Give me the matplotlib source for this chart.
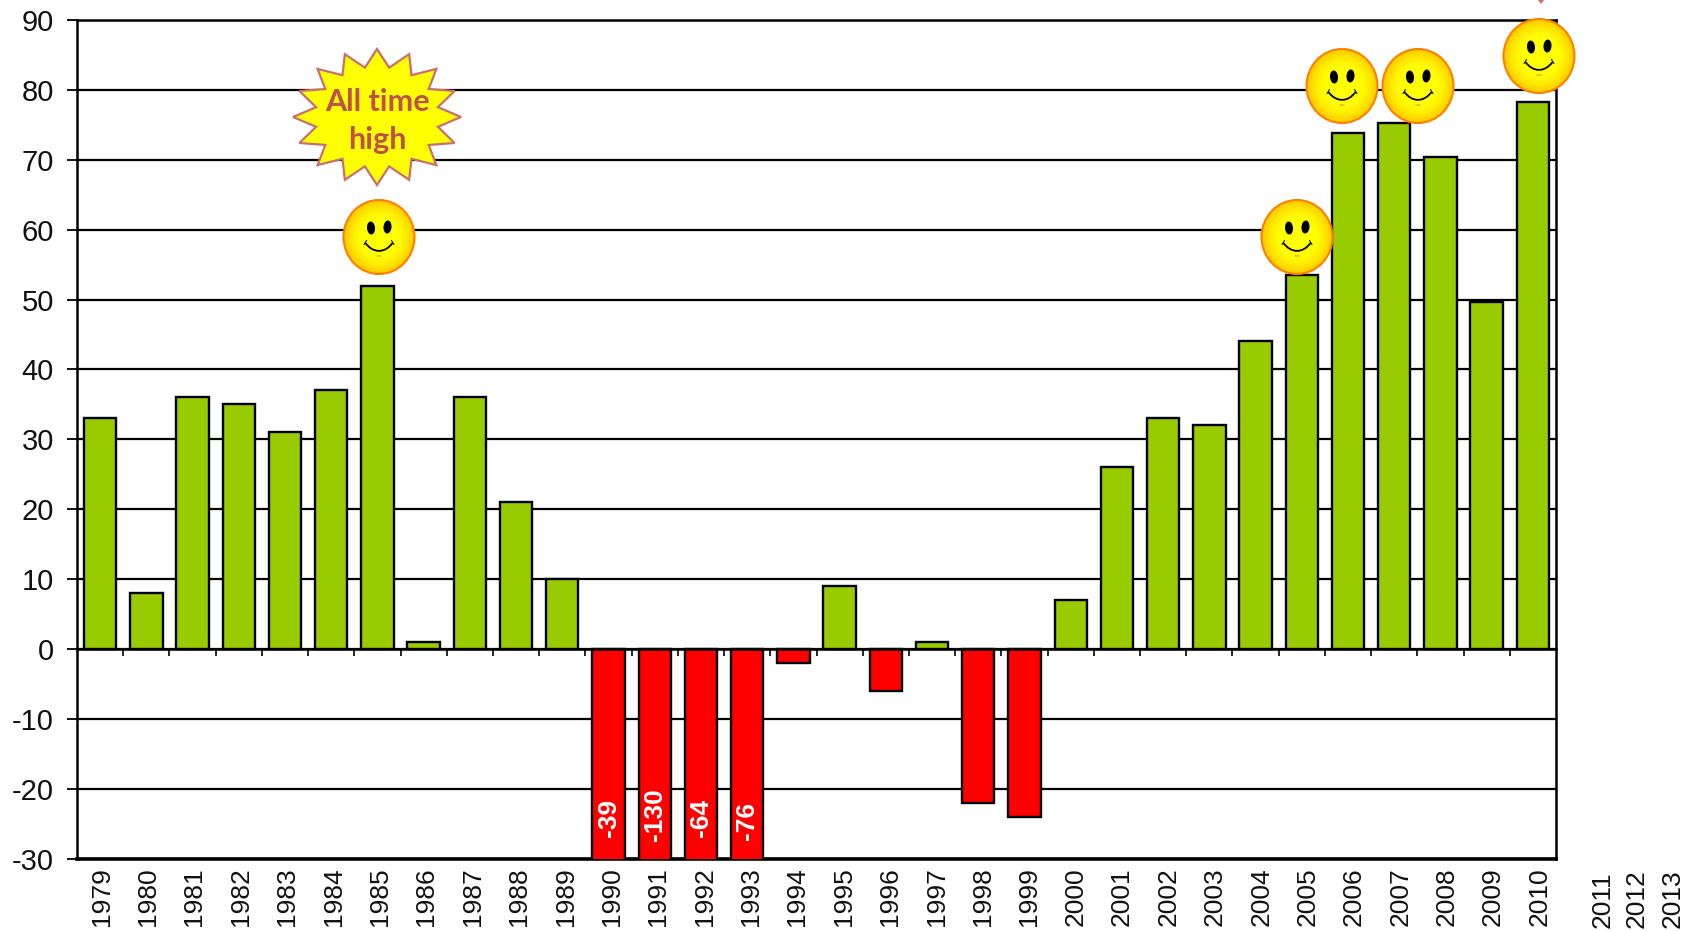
import numpy as np
import matplotlib
matplotlib.use('Agg')
import matplotlib.pyplot as plt
from matplotlib.patches import Ellipse, Polygon, PathPatch
from matplotlib.path import Path

plt.rcParams['font.family'] = ['Liberation Sans', 'DejaVu Sans']
plt.rcParams['axes.unicode_minus'] = False

years = list(range(1979, 2011))
values = [33, 8, 36, 35, 31, 37, 52, 1, 36, 21, 10, -39, -130, -64, -76, -2,
          9, -6, 1, -22, -24, 7, 26, 33, 32, 44, 53.5, 73.8, 75.3, 70.4, 49.6, 78.3]
extra_years = ['2011', '2012', '2013']
y_ticks = list(range(-30, 91, 10))

W, H = 1696, 931
fig = plt.figure(figsize=(W / 100, H / 100), dpi=100)
ax = fig.add_axes([77 / W, 1 - 858.5 / H, (1556 - 77) / W, (858.5 - 20) / H])

x = np.arange(len(years))
colors = ['#99CC00' if v >= 0 else '#FF0000' for v in values]
ax.bar(x, values, width=0.70, color=colors, edgecolor='black', linewidth=1.7, zorder=3)

ax.set_xlim(-0.5, len(years) - 0.5)
ax.set_ylim(-30, 90)
ax.set_yticks(y_ticks)
ax.tick_params(axis='y', labelsize=21, length=7, width=1.4, pad=9.5, colors='#111111')
ax.grid(True, axis='y', color='black', linewidth=1.6, zorder=1)
ax.set_axisbelow(True)

for s in ['left', 'right', 'top', 'bottom']:
    ax.spines[s].set_linewidth(1.8)
    ax.spines[s].set_color('black')
    ax.spines[s].set_zorder(4)
ax.spines['bottom'].set_position(('data', 0))
ax.set_xticks(x[:-1] + 0.5)
ax.set_xticklabels([])
ax.tick_params(axis='x', length=5, width=1.2)
ax.plot([-0.5, len(years) - 0.5], [-30, -30], color='black', lw=2.6, clip_on=False, zorder=2)

# year labels hang below the bottom line and drift a little right of the bars
for i, yr in enumerate(years):
    dx = (1.6 + 5.0 * i / 31) * 0.72
    ax.annotate(str(yr), (i, 0), xycoords=ax.get_xaxis_transform(), xytext=(dx, -6.5),
                textcoords='offset points', rotation=90, ha='center', va='top',
                fontsize=19, color='#111111')

# clipped bars carry their real value
label_y = {-39: -24.2, -130: -23.7, -64: -24.2, -76: -24.6}
for i, v in enumerate(values):
    if v < -30:
        ax.text(i, label_y[v], str(v), rotation=90, ha='center', va='center', color='white',
                fontsize=19, fontweight='bold', zorder=5)

# overlay in pixel coordinates for the drawn shapes
ov = fig.add_axes([0, 0, 1, 1], facecolor='none')
ov.axis('off')

for lab, px in zip(extra_years, [1603, 1637, 1673]):
    ov.text(px, 928, lab, rotation=90, ha='center', va='bottom', fontsize=19, color='#111111')

# star
n = 16
ang = np.arange(2 * n) * np.pi / n
rad = np.where(np.arange(2 * n) % 2 == 0, 1.0, 0.74)
star = np.column_stack([377 + 84 * rad * np.sin(ang), 117 - 68 * rad * np.cos(ang)])
ov.add_patch(Polygon(star, closed=True, facecolor='#FFFF00', edgecolor='#C87070', linewidth=1.6, zorder=5))
ov.text(377, 102, 'All time', ha='center', va='center', color='#C0504D', fontsize=22,
        fontweight='bold', family='Lato', zorder=6)
ov.text(377, 140, 'high', ha='center', va='center', color='#C0504D', fontsize=22,
        fontweight='bold', family='Lato', zorder=6)

# arrow tip cut off by the top edge
ov.add_patch(Polygon([[1536, -2], [1546, -2], [1541, 4]], closed=True, facecolor='#D9746F',
                     edgecolor='none', zorder=6))

# radial gradient for the smileys
g = np.linspace(-1, 1, 120)
gx, gy = np.meshgrid(g, g)
r = np.clip(np.hypot(gx, gy), 0, 1)
grad = np.zeros((120, 120, 3))
grad[..., 0] = 1.0
grad[..., 1] = 1.0 - 0.22 * np.clip((r - 0.5) / 0.5, 0, 1) ** 1.5


def smiley(cx, cy):
    rx, ry = 35.5, 37
    im = ov.imshow(grad, extent=[cx - rx, cx + rx, cy + ry, cy - ry], zorder=7, aspect='auto')
    clip = Ellipse((cx, cy), 2 * rx, 2 * ry, transform=ov.transData, facecolor='none', edgecolor='none')
    ov.add_patch(clip)
    im.set_clip_path(clip)
    ov.add_patch(Ellipse((cx, cy), 2 * rx, 2 * ry, facecolor='none', edgecolor='#FF8000', linewidth=1.5, zorder=8))
    ov.add_patch(Ellipse((cx - 8, cy - 9), 8, 13, angle=-5, facecolor='black', edgecolor='none', zorder=8))
    ov.add_patch(Ellipse((cx + 8.5, cy - 10), 8, 13, angle=5, facecolor='black', edgecolor='none', zorder=8))
    mouth = Path([(cx - 13.5, cy + 6), (cx - 6, cy + 16.5), (cx + 6, cy + 16.5), (cx + 13.5, cy + 6)],
                 [Path.MOVETO, Path.CURVE4, Path.CURVE4, Path.CURVE4])
    ov.add_patch(PathPatch(mouth, facecolor='none', edgecolor='black', linewidth=1.3, zorder=8))
    ov.plot([cx - 15, cx - 12.5], [cy + 7.5, cy + 3.5], color='black', lw=0.7, zorder=8)
    ov.plot([cx + 15, cx + 12.5], [cy + 7.5, cy + 3.5], color='black', lw=0.7, zorder=8)
    ov.add_patch(Ellipse((cx, cy + 19), 6, 1.8, facecolor='#F5B050', edgecolor='none', zorder=8))


for cx, cy in [(379, 237), (1297, 237), (1342, 86), (1418, 86), (1539, 56)]:
    smiley(cx, cy)

ov.set_xlim(0, W)
ov.set_ylim(H, 0)
fig.savefig('out.png', dpi=100)
